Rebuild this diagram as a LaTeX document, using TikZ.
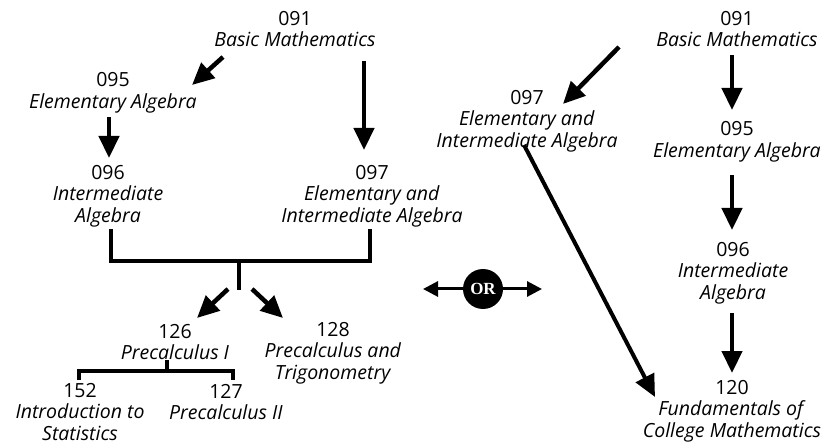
\documentclass[tikz,border=0pt]{standalone}
\usepackage{fontspec}
\setmainfont{Open Sans}
\newfontfamily\orfont{Liberation Serif}
\usetikzlibrary{arrows.meta}
\begin{document}
\begin{tikzpicture}[x=1pt,y=-1pt,
  lbl/.style={align=center,inner sep=0pt,font=\fontsize{19.5}{21.5}\selectfont},
  arr/.style={line width=4.5pt,-{Triangle[length=22pt,width=20pt]}},
  bar/.style={line width=4pt},
  orarr/.style={line width=3pt,-{Triangle[length=15pt,width=15pt]}}]
\useasboundingbox (0,0) rectangle (830,446);
% left tree
\node[lbl] (l091) at (295,29) {091\\\textit{Basic Mathematics}};
\node[lbl] (l095) at (113,93) {095\\\textit{Elementary Algebra}};
\node[lbl] (l096) at (108,196) {096\\\textit{Intermediate}\\\textit{Algebra}};
\node[lbl] (l097) at (372,196) {097\\\textit{Elementary and}\\\textit{Intermediate Algebra}};
\node[lbl] (l126) at (175,342) {126\\\textit{Precalculus I}};
\node[lbl] (l128) at (333,353) {128\\\textit{Precalculus and}\\\textit{Trigonometry}};
\node[lbl] (l152) at (80,412) {152\\\textit{Introduction to}\\\textit{Statistics}};
\node[lbl] (l127) at (226,402) {127\\\textit{Precalculus II}};
% right tree
\node[lbl] (r091) at (737,29) {091\\\textit{Basic Mathematics}};
\node[lbl] (r097) at (527,121) {097\\\textit{Elementary and}\\\textit{Intermediate Algebra}};
\node[lbl] (r095) at (737,142) {095\\\textit{Elementary Algebra}};
\node[lbl] (r096) at (733,273) {096\\\textit{Intermediate}\\\textit{Algebra}};
\node[lbl] (r120) at (732,411) {120\\\textit{Fundamentals of}\\\textit{College Mathematics}};
% OR
\node[circle,fill=black,minimum size=40pt,inner sep=0pt,text=white,font=\fontsize{17}{17}\orfont\bfseries] (or) at (483,289) {OR};
% coordinates
\coordinate (a1s) at (223,57); \coordinate (a1e) at (192,85);
\coordinate (a2s) at (364,61); \coordinate (a2e) at (364,150);
\coordinate (a3s) at (109,117); \coordinate (a3e) at (109,158);
\coordinate (bl) at (111,229); \coordinate (br) at (370,229);
\coordinate (bm) at (239,261); \coordinate (bs) at (239,290);
\coordinate (a4s) at (228,289); \coordinate (a4e) at (197,318);
\coordinate (a5s) at (252,289); \coordinate (a5e) at (283,318);
\coordinate (sm) at (167,360); \coordinate (sj) at (167,371);
\coordinate (sl) at (79,380); \coordinate (sr) at (233,380);
\coordinate (b1s) at (619,47); \coordinate (b1e) at (563,104);
\coordinate (b2s) at (732,55); \coordinate (b2e) at (732,110);
\coordinate (b3s) at (732,175); \coordinate (b3e) at (732,230);
\coordinate (b4s) at (732,313); \coordinate (b4e) at (732,373);
\coordinate (b5s) at (524,145); \coordinate (b5e) at (655,397);
\coordinate (orl) at (423,289); \coordinate (orr) at (542,289);
% connectors
\draw[arr] (a1s) -- (a1e);
\draw[arr] (a2s) -- (a2e);
\draw[arr] (a3s) -- (a3e);
\draw[bar] (bl) -- (bl |- bm) -- (br |- bm) -- (br);
\draw[bar] (bm) -- (bs);
\draw[arr] (a4s) -- (a4e);
\draw[arr] (a5s) -- (a5e);
\draw[bar] (sm) -- (sj);
\draw[bar] (sl) -- (sl |- sj) -- (sr |- sj) -- (sr);
\draw[arr] (b1s) -- (b1e);
\draw[arr] (b2s) -- (b2e);
\draw[arr] (b3s) -- (b3e);
\draw[arr] (b4s) -- (b4e);
\draw[line width=4pt,-{Triangle[length=22pt,width=20pt]}] (b5s) -- (b5e);
\draw[orarr] (or.west) -- (orl);
\draw[orarr] (or.east) -- (orr);
\end{tikzpicture}
\end{document}
